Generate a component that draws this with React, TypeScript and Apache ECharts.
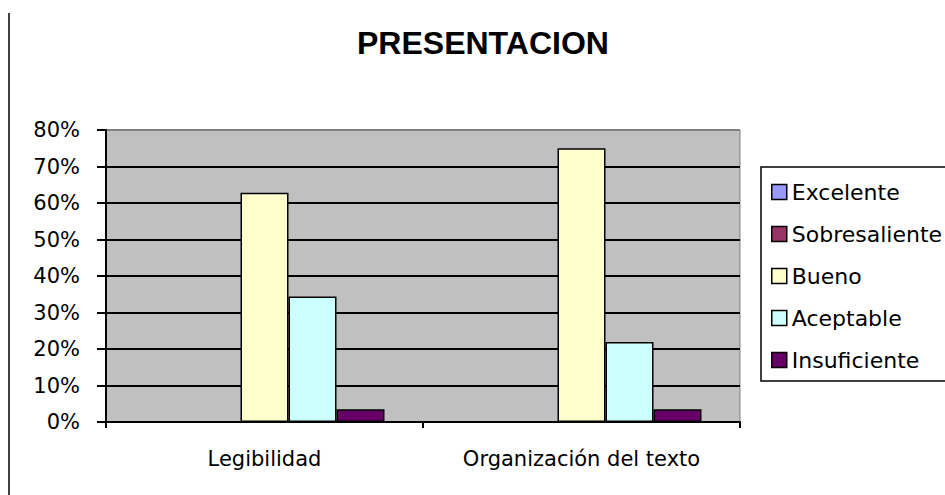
import React, { useEffect, useRef } from "react";
import * as echarts from "echarts";

const categories = ["Legibilidad", "Organización del texto"];
const seriesNames = ["Excelente", "Sobresaliente", "Bueno", "Aceptable", "Insuficiente"];
const excelente = [0, 0];
const sobresaliente = [0, 0];
const bueno = [62.8, 75.0];
const aceptable = [34.4, 21.9];
const insuficiente = [3.5, 3.5];
const seriesColors = ["#9999FF", "#993366", "#FFFFCC", "#CCFFFF", "#660066"];
const yTicks = { min: 0, max: 80, interval: 10 };
const titleText = "PRESENTACION";

export default function App() {
  const ref = useRef<HTMLDivElement>(null);
  useEffect(() => {
    if (!ref.current) return;
    const chart = echarts.init(ref.current, null, { renderer: "svg" });
    const values = [excelente, sobresaliente, bueno, aceptable, insuficiente];
    const font = "DejaVu Sans";
    chart.setOption({
      animation: false,
      backgroundColor: "#ffffff",
      title: {
        text: titleText,
        left: 357,
        top: 27,
        padding: 0,
        textStyle: { fontFamily: "Liberation Sans", fontWeight: "bold", fontSize: 32, color: "#000" },
      },
      graphic: [
        {
          type: "line",
          shape: { x1: 9, y1: 13, x2: 9, y2: 495 },
          style: { stroke: "#404040", lineWidth: 2 },
        },
      ],
      legend: {
        orient: "vertical",
        left: 761,
        top: 167,
        padding: [14, 10, 10, 10],
        itemGap: 20,
        itemWidth: 15,
        itemHeight: 15,
        icon: "rect",
        backgroundColor: "#ffffff",
        borderColor: "#000",
        borderWidth: 1.5,
        borderRadius: 0,
        itemStyle: { borderColor: "#000", borderWidth: 1.5 },
        textStyle: { fontFamily: font, fontSize: 22, lineHeight: 22, color: "#000" },
        data: seriesNames,
      },
      grid: {
        left: 106,
        right: 205,
        top: 130,
        bottom: 73,
        show: true,
        backgroundColor: "#C0C0C0",
        borderColor: "#808080",
        borderWidth: 1,
        containLabel: false,
      },
      xAxis: {
        type: "category",
        data: categories,
        axisLine: { show: true, lineStyle: { color: "#000", width: 2 } },
        axisTick: { show: true, alignWithLabel: false, length: 6, lineStyle: { color: "#000", width: 2 } },
        axisLabel: { fontFamily: font, fontSize: 21, color: "#000", margin: 26 },
      },
      yAxis: {
        type: "value",
        min: yTicks.min,
        max: yTicks.max,
        interval: yTicks.interval,
        axisLine: { show: true, lineStyle: { color: "#000", width: 2 } },
        axisTick: { show: true, length: 9, lineStyle: { color: "#000", width: 2 } },
        axisLabel: { fontFamily: font, fontSize: 21, color: "#000", margin: 26, formatter: "{value}%" },
        splitLine: {
          show: true,
          lineStyle: {
            color: ["#000", "#000", "#000", "#000", "#000", "#000", "#000", "#000", "#808080"],
            width: 2,
          },
        },
      },
      series: seriesNames.map((name, i) => ({
        name,
        type: "bar",
        data: values[i],
        barWidth: 48,
        barGap: "0%",
        itemStyle: { color: seriesColors[i], borderColor: "#000", borderWidth: 1.5 },
      })),
    });
    return () => chart.dispose();
  }, []);
  return (
    <div
      ref={ref}
      style={{ position: "fixed", left: 0, top: 0, width: 945, height: 495, background: "#fff" }}
    />
  );
}
